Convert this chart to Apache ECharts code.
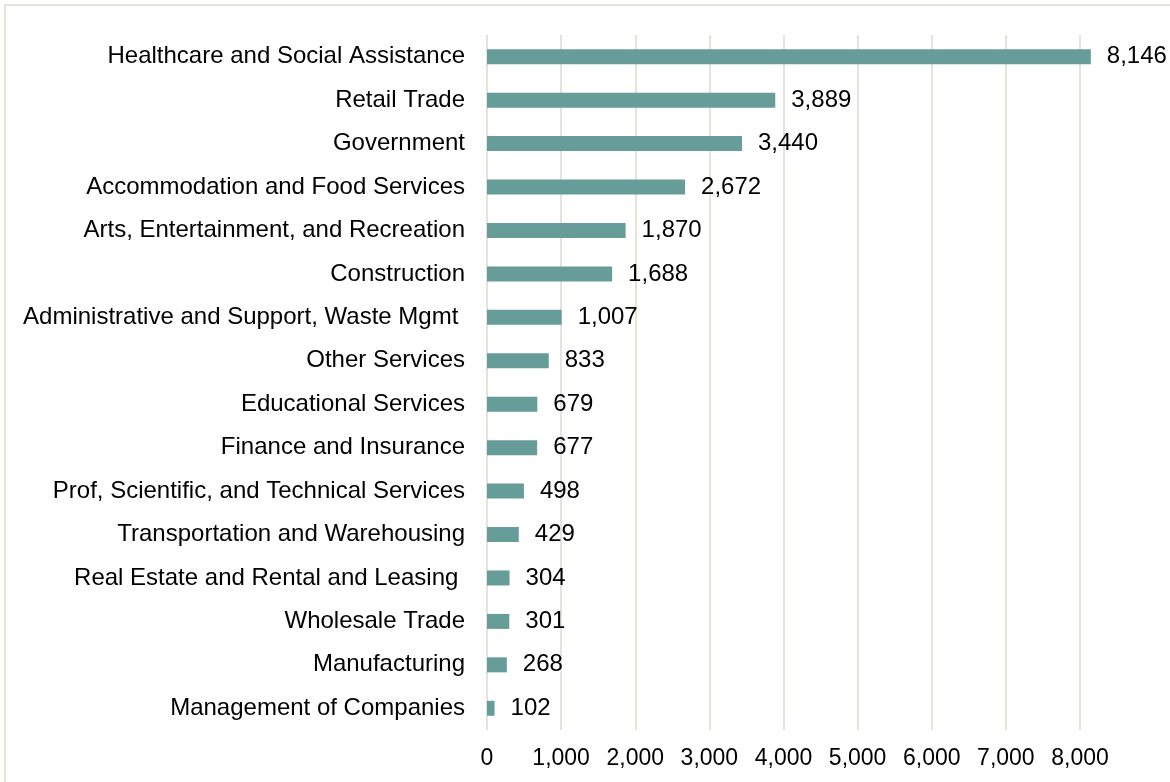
<!DOCTYPE html>
<html>
<head>
<meta charset="utf-8">
<script src="https://cdn.jsdelivr.net/npm/echarts@6/dist/echarts.min.js"></script>
<style>
  html, body { margin: 0; padding: 0; background: #ffffff; }
  #chart { width: 1170px; height: 782px; }
</style>
</head>
<body>
<div id="chart"></div>
<script>
// Industries, listed top to bottom
const industries = [
  'Healthcare and Social Assistance',
  'Retail Trade',
  'Government',
  'Accommodation and Food Services',
  'Arts, Entertainment, and Recreation',
  'Construction',
  'Administrative and Support, Waste Mgmt ',
  'Other Services',
  'Educational Services',
  'Finance and Insurance',
  'Prof, Scientific, and Technical Services',
  'Transportation and Warehousing',
  'Real Estate and Rental and Leasing ',
  'Wholesale Trade',
  'Manufacturing',
  'Management of Companies'
];
const counts = [8146, 3889, 3440, 2672, 1870, 1688, 1007, 833, 679, 677, 498, 429, 304, 301, 268, 102];

const chart = echarts.init(document.getElementById('chart'), null, { renderer: 'canvas' });
const font = 'Liberation Sans, Arial, sans-serif';

chart.setOption({
  animation: false,
  backgroundColor: '#ffffff',
  graphic: [{
    type: 'rect',
    shape: { x: 5, y: 5, width: 1200, height: 820 },
    style: { fill: 'none', stroke: '#e6e3db', lineWidth: 2 },
    silent: true
  }],
  grid: { left: 487, right: 90, top: 35, bottom: 52, containLabel: false },
  xAxis: {
    type: 'value',
    min: 0,
    max: 8000,
    interval: 1000,
    axisLine: { show: false },
    axisTick: { show: false },
    splitLine: { show: true, lineStyle: { color: '#e6e3da', width: 2 } },
    axisLabel: {
      margin: 17,
      fontFamily: font,
      fontSize: 23,
      color: '#000000',
      formatter: v => v.toLocaleString('en-US')
    }
  },
  yAxis: {
    type: 'category',
    inverse: true,
    data: industries,
    axisLine: { show: false },
    axisTick: { show: false },
    axisLabel: {
      margin: 22,
      padding: [4, 0, 0, 0],
      fontFamily: font,
      fontSize: 24,
      color: '#000000'
    }
  },
  series: [{
    type: 'bar',
    data: counts,
    barWidth: 15,
    clip: false,
    itemStyle: { color: '#679d99' },
    label: {
      show: true,
      position: 'right',
      distance: 16,
      padding: [4, 0, 0, 0],
      fontFamily: font,
      fontSize: 24,
      color: '#000000',
      formatter: p => p.value.toLocaleString('en-US')
    }
  }]
});
</script>
</body>
</html>
